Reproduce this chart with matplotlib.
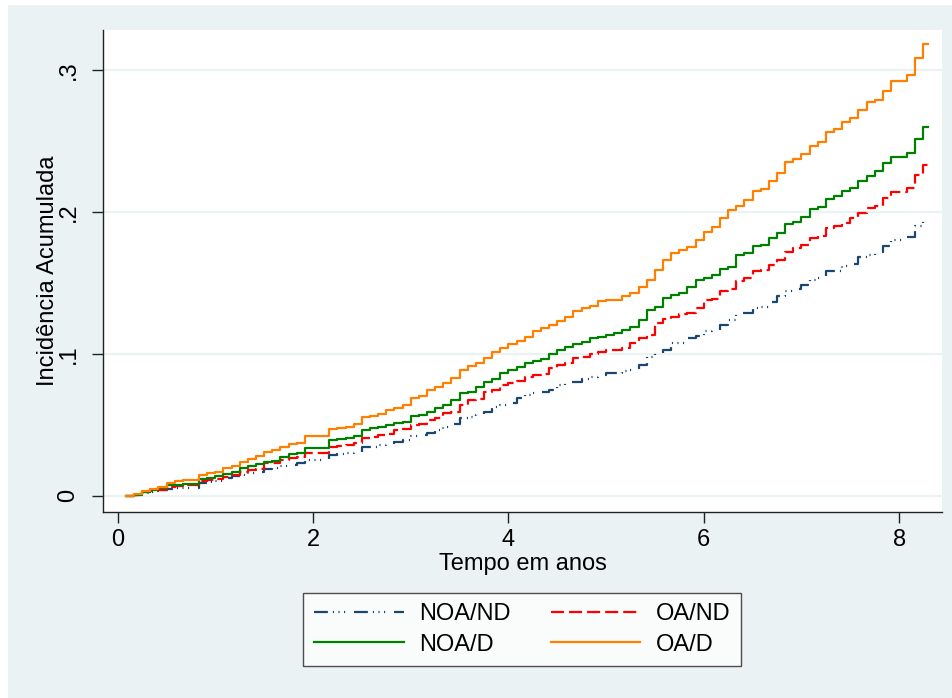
import numpy as np
import matplotlib
matplotlib.use("Agg")
import matplotlib.pyplot as plt
from matplotlib.patches import Rectangle

# meses de seguimento (cada degrau = 1 mes) e fim do seguimento em anos
meses = list(range(1, 100))
fim_anos = 8.30

noa_nd = [0, 0.0008, 0.002, 0.003, 0.004, 0.005, 0.0058, 0.0058, 0.0058, 0.0094,
          0.010, 0.0106, 0.0123, 0.0137, 0.0148, 0.0164, 0.0171, 0.0188, 0.0195, 0.0211,
          0.0218, 0.023, 0.0256, 0.0256, 0.0256, 0.0289, 0.0296, 0.030, 0.0312, 0.0343,
          0.0347, 0.0359, 0.037, 0.0382, 0.0394, 0.0423, 0.043, 0.0442, 0.0465, 0.0484,
          0.0507, 0.0547, 0.0554, 0.057, 0.0594, 0.0625, 0.064, 0.0657, 0.069, 0.0711,
          0.0725, 0.0735, 0.0745, 0.0782, 0.0805, 0.0805, 0.0825, 0.0836, 0.085, 0.0864,
          0.0864, 0.0876, 0.0885, 0.0923, 0.098, 0.1005, 0.1028, 0.1075, 0.1075, 0.111,
          0.1125, 0.116, 0.117, 0.120, 0.124, 0.1287, 0.129, 0.1322, 0.1333, 0.1368,
          0.1404, 0.1446, 0.1455, 0.1486, 0.152, 0.1533, 0.158, 0.1587, 0.162, 0.1634,
          0.168, 0.1697, 0.172, 0.176, 0.180, 0.180, 0.1826, 0.1897, 0.1955]

oa_nd = [0, 0.001, 0.0025, 0.0035, 0.0045, 0.006, 0.0072, 0.0078, 0.0078, 0.0106,
         0.011, 0.0118, 0.0136, 0.0148, 0.0171, 0.0183, 0.0188, 0.023, 0.0235, 0.0254,
         0.0265, 0.0272, 0.0305, 0.0305, 0.0305, 0.0347, 0.0352, 0.0359, 0.037, 0.0406,
         0.0413, 0.043, 0.0437, 0.0465, 0.047, 0.050, 0.0507, 0.0535, 0.0551, 0.0582,
         0.0594, 0.064, 0.0676, 0.068, 0.0735, 0.0746, 0.078, 0.0792, 0.081, 0.084,
         0.0852, 0.0859, 0.090, 0.0923, 0.0939, 0.097, 0.098, 0.100, 0.101, 0.1028,
         0.1028, 0.104, 0.1075, 0.111, 0.1134, 0.1216, 0.1244, 0.1258, 0.1282, 0.1291,
         0.1322, 0.138, 0.1385, 0.144, 0.146, 0.151, 0.1533, 0.158, 0.159, 0.1627,
         0.166, 0.172, 0.1745, 0.1768, 0.1815, 0.183, 0.1885, 0.190, 0.192, 0.1955,
         0.199, 0.2026, 0.204, 0.2096, 0.2143, 0.2143, 0.2167, 0.226, 0.233]

noa_d = [0, 0.001, 0.003, 0.004, 0.0055, 0.0075, 0.008, 0.0085, 0.0085, 0.012,
         0.0129, 0.014, 0.0155, 0.0171, 0.0195, 0.021, 0.0223, 0.0241, 0.0246, 0.0277,
         0.0296, 0.0301, 0.0336, 0.0336, 0.0336, 0.0394, 0.040, 0.0406, 0.0423, 0.0465,
         0.0477, 0.0488, 0.050, 0.0512, 0.0523, 0.0563, 0.057, 0.0594, 0.0618, 0.064,
         0.0676, 0.0728, 0.0735, 0.0765, 0.0805, 0.0822, 0.0868, 0.0887, 0.091, 0.0939,
         0.0953, 0.0963, 0.100, 0.1028, 0.1051, 0.107, 0.1087, 0.111, 0.1122, 0.1134,
         0.115, 0.1169, 0.1188, 0.124, 0.131, 0.1333, 0.139, 0.1415, 0.143, 0.1474,
         0.152, 0.1535, 0.1556, 0.160, 0.1615, 0.1697, 0.171, 0.1756, 0.1768, 0.1815,
         0.185, 0.1915, 0.193, 0.1967, 0.2019, 0.2033, 0.2092, 0.2113, 0.215, 0.2171,
         0.222, 0.2254, 0.2284, 0.2343, 0.2385, 0.2385, 0.2413, 0.2512, 0.2596]

oa_d = [0, 0.0012, 0.0037, 0.0047, 0.006, 0.0094, 0.0106, 0.0113, 0.0113, 0.0148,
        0.016, 0.0171, 0.0195, 0.0211, 0.0237, 0.0258, 0.0282, 0.0312, 0.0324, 0.0343,
        0.0366, 0.0375, 0.042, 0.042, 0.042, 0.047, 0.048, 0.0488, 0.0505, 0.0554,
        0.0563, 0.0575, 0.0606, 0.0618, 0.064, 0.0688, 0.070, 0.0746, 0.0765, 0.0798,
        0.0829, 0.0887, 0.0915, 0.0939, 0.097, 0.101, 0.104, 0.107, 0.109, 0.112,
        0.116, 0.118, 0.120, 0.123, 0.126, 0.130, 0.132, 0.134, 0.137, 0.138,
        0.138, 0.141, 0.143, 0.147, 0.152, 0.159, 0.166, 0.171, 0.173, 0.175,
        0.180, 0.186, 0.189, 0.196, 0.201, 0.204, 0.208, 0.215, 0.216, 0.222,
        0.227, 0.235, 0.237, 0.241, 0.246, 0.249, 0.256, 0.258, 0.263, 0.266,
        0.272, 0.277, 0.279, 0.285, 0.292, 0.292, 0.296, 0.308, 0.318]

rotulos = ["NOA/ND", "OA/ND", "NOA/D", "OA/D"]
xticks = [0, 2, 4, 6, 8]
yticks = [0, 0.1, 0.2, 0.3]
ytick_rotulos = ["0", ".1", ".2", ".3"]

plt.rcParams['font.family'] = ['Liberation Sans', 'DejaVu Sans']
plt.rcParams['lines.scale_dashes'] = False

fundo = "#EAF2F3"
cores = ["#1A476F", "#FF0000", "#008000", "#FF8000"]
estilos = [(0, (10, 3.6, 0.8, 3.2, 0.8, 3.2, 0.8, 6.4)), (0, (9.4, 3.6)), "-", "-"]

fig = plt.figure(figsize=(9.53, 6.98), dpi=100)
fig.patch.set_facecolor("white")
fig.add_artist(Rectangle((8 / 953, 0), 1 - 8 / 953, 693 / 698, transform=fig.transFigure,
                         facecolor=fundo, edgecolor="none", zorder=-1))

ax = fig.add_axes([0.1081, 0.2665, 0.8804, 0.6905])
ax.set_facecolor("white")

tempo = np.append(np.array(meses) / 12.0, fim_anos)
series = [noa_nd, oa_nd, noa_d, oa_d]
linhas = []
for serie, cor, estilo, rot in zip(series, cores, estilos, rotulos):
    y = np.append(serie, serie[-1])
    ln, = ax.step(tempo, y, where="post", color=cor, linestyle=estilo, lw=1.6, label=rot)
    linhas.append(ln)

ax.set_xlim(-0.15, 8.44)
ax.set_ylim(-0.0113, 0.328)
ax.set_xticks(xticks)
ax.set_yticks(yticks)
ax.set_yticklabels(ytick_rotulos, rotation=90, va="center")
for g in yticks:
    ax.axhline(g, color=fundo, lw=1.6, zorder=0)

for s in ["top", "right"]:
    ax.spines[s].set_visible(False)
for s in ["left", "bottom"]:
    ax.spines[s].set_color("#222222")
    ax.spines[s].set_linewidth(1.0)

ax.tick_params(axis="both", direction="out", length=8, width=1, color="#222222", labelsize=17)
ax.tick_params(axis="y", pad=9)
ax.tick_params(axis="x", pad=4)

ax.set_xlabel("Tempo em anos", fontsize=17, labelpad=2)
ax.set_ylabel("Incidência Acumulada", fontsize=17, labelpad=-1)

ordem = [linhas[0], linhas[2], linhas[1], linhas[3]]
leg = fig.legend(ordem, [l.get_label() for l in ordem], ncol=2, loc="center",
                 bbox_to_anchor=(0.548, 0.098), fontsize=17, frameon=True, fancybox=False,
                 handlelength=3.8, handletextpad=0.65, columnspacing=1.7,
                 labelspacing=0.35, borderpad=0.45)
leg.get_frame().set_edgecolor("#222222")
leg.get_frame().set_linewidth(1.0)
leg.get_frame().set_facecolor("white")

fig.savefig("out.png", dpi=100, facecolor=fig.get_facecolor())
